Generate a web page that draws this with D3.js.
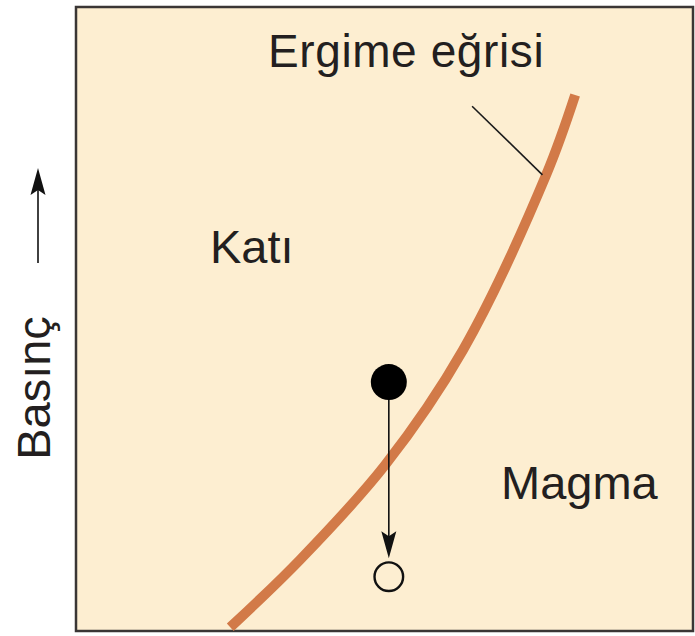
<!DOCTYPE html>
<html>
<head>
<meta charset="utf-8">
<script src="https://cdn.jsdelivr.net/npm/d3@7"></script>
<style>
  html, body { margin: 0; padding: 0; background: #ffffff; }
  svg { display: block; }
</style>
</head>
<body>
<svg id="chart" width="695" height="636"></svg>
<script>
// Melting curve (temperature %, pressure %)
const curveTemp     = [25.0, 36.3, 50.1, 62.7, 76.2, 80.9];
const curvePressure = [0.6, 11.4, 26.6, 45.0, 73.1, 85.9];
// Decompression path: start (solid) and end (open) states
const pathTemp      = [50.7, 50.7];
const pathPressure  = [39.9, 8.7];
// Leader line for curve label
const leaderTemp     = [64.2, 75.6];
const leaderPressure = [84.1, 73.1];
// Texts
const curveLabel = "Ergime eğrisi";
const regionLabels = ["Katı", "Magma"];
const yAxisLabel = "Basınç";

(function () {
const svg = d3.select("#chart");
const pL = 76, pR = 693, pT = 7, pB = 631;
const x = d3.scaleLinear().domain([0, 100]).range([pL, pR]);
const y = d3.scaleLinear().domain([0, 100]).range([pB, pT]);
const bg = "#fdeed1";

// arrowhead helper (vertical arrows), tip at (tx,ty), dir = +1 down, -1 up
function head(tx, ty, dir) {
  const L = 27, W = 7.5, N = 5;
  const p = d3.path();
  p.moveTo(tx, ty);
  p.lineTo(tx - W, ty - dir * L);
  p.lineTo(tx, ty - dir * (L - N));
  p.lineTo(tx + W, ty - dir * L);
  p.closePath();
  svg.append("path").attr("d", p.toString()).attr("fill", "#111");
}

// background panel
svg.append("rect")
  .attr("x", pL).attr("y", pT)
  .attr("width", pR - pL).attr("height", pB - pT)
  .attr("fill", bg)
  .attr("stroke", "#3a3635").attr("stroke-width", 2.5);

// melting curve
const curvePts = curveTemp.map((t, i) => [t, curvePressure[i]]);
svg.append("path")
  .datum(curvePts)
  .attr("d", d3.line().x(d => x(d[0])).y(d => y(d[1])).curve(d3.curveCatmullRom.alpha(0.5)))
  .attr("fill", "none")
  .attr("stroke", "#d27a48")
  .attr("stroke-width", 10)
  .attr("stroke-linecap", "butt");

// leader line
svg.append("line")
  .attr("x1", x(leaderTemp[0])).attr("y1", y(leaderPressure[0]))
  .attr("x2", x(leaderTemp[1])).attr("y2", y(leaderPressure[1]))
  .attr("stroke", "#1a1a1a").attr("stroke-width", 1.6);

// decompression arrow
const r0 = 18, r1 = 15.5;
const ax = x(pathTemp[0]);
const tipY = y(pathPressure[1]) - r1 - 3;
svg.append("line")
  .attr("x1", ax).attr("y1", y(pathPressure[0]))
  .attr("x2", ax).attr("y2", tipY - 15)
  .attr("stroke", "#111").attr("stroke-width", 1.6);
head(ax, tipY, 1);

svg.append("circle")
  .attr("cx", ax).attr("cy", y(pathPressure[0])).attr("r", r0)
  .attr("fill", "#000");
svg.append("circle")
  .attr("cx", x(pathTemp[1])).attr("cy", y(pathPressure[1])).attr("r", r1 - 1.2)
  .attr("fill", bg).attr("stroke", "#111").attr("stroke-width", 2.4);

const font = "'Liberation Sans', Arial, sans-serif";
const textColor = "#231f20";

svg.append("text")
  .attr("x", 268).attr("y", 67)
  .attr("font-family", font).attr("font-size", 46)
  .attr("letter-spacing", 0.6)
  .attr("fill", textColor).text(curveLabel);

svg.append("text")
  .attr("x", 210).attr("y", 263)
  .attr("font-family", font).attr("font-size", 47)
  .attr("fill", textColor).text(regionLabels[0]);

svg.append("text")
  .attr("x", 501).attr("y", 499)
  .attr("font-family", font).attr("font-size", 47)
  .attr("fill", textColor).text(regionLabels[1]);

// y axis label + arrow
svg.append("text")
  .attr("transform", "translate(50,388) rotate(-90)")
  .attr("text-anchor", "middle")
  .attr("font-family", font).attr("font-size", 47)
  .attr("fill", textColor).text(yAxisLabel);

svg.append("line")
  .attr("x1", 38).attr("y1", 263).attr("x2", 38).attr("y2", 185)
  .attr("stroke", "#111").attr("stroke-width", 1.6);
head(38, 168, -1);
})();
</script>
</body>
</html>
